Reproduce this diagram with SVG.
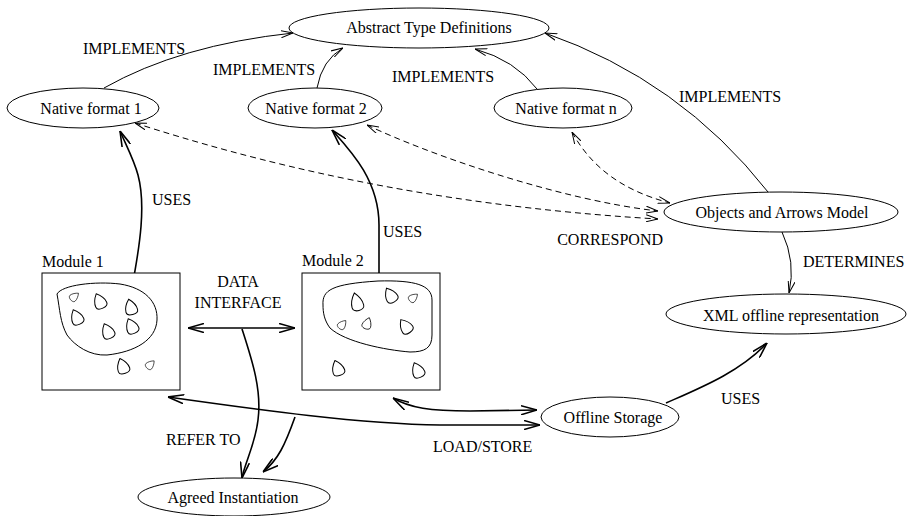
<svg xmlns="http://www.w3.org/2000/svg" width="909" height="516" viewBox="0 0 909 516">
<style>
.n{fill:#fff;stroke:#000;stroke-width:1}
.t{font-family:"Liberation Serif","Times New Roman",serif;font-size:16px;fill:#000}
.m{text-anchor:middle}
.c{fill:none;stroke:#000;stroke-width:1}
.k{fill:none;stroke:#000;stroke-width:1.6}
.d{fill:none;stroke:#000;stroke-width:1;stroke-dasharray:6 4}
.b{fill:none;stroke:#000;stroke-width:1}
</style>
<defs>
<marker id="a" viewBox="0 0 12 8" refX="12" refY="4" markerWidth="12" markerHeight="8" markerUnits="userSpaceOnUse" orient="auto-start-reverse"><path d="M0,0.5 L12,4 L0,7.5" fill="none" stroke="#000" stroke-width="1"/></marker>
<marker id="h" viewBox="0 0 16 10" refX="16" refY="5" markerWidth="16" markerHeight="10" markerUnits="userSpaceOnUse" orient="auto-start-reverse"><path d="M0,0.5 L16,5 L0,9.5" fill="none" stroke="#000" stroke-width="1.6"/></marker>
<path id="drop" d="M0,-9 C3,-6 6,-1 6,3 C6,8 -6,8 -6,3 C-6,-1 -3,-6 0,-9Z" fill="none" stroke="#000" stroke-width="1"/>
</defs>

<g id="connectors">
<path class="c" d="M104,88 Q180,45 293,33" marker-end="url(#a)"/>
<path class="c" d="M317,88 Q322,60 343,48" marker-end="url(#a)"/>
<path class="c" d="M537,89 Q515,60 475,49" marker-end="url(#a)"/>
<path class="c" d="M768,192 Q680,80 545,33" marker-end="url(#a)"/>
<path class="c" d="M782,232 Q796,262 789,293" marker-end="url(#a)"/>
<path class="k" d="M666,403 C700,388 740,372 767,343" marker-end="url(#h)"/>
<path class="k" d="M132,287 C140,245 146,205 138,175 C134,160 126,145 120,131" marker-end="url(#h)"/>
<path class="k" d="M379,280 L379,225 C379,180 350,150 332,130" marker-end="url(#h)"/>
<path class="k" d="M188,328 L295,328" marker-start="url(#h)" marker-end="url(#h)"/>
<path class="k" d="M242,329 C252,360 262,390 258,420 C255,445 245,462 242,478" marker-end="url(#h)"/>
<path class="k" d="M295,417 C285,445 278,460 263,472" marker-end="url(#h)"/>
<path class="k" d="M168,397 C260,410 360,424 440,425 L540,425" marker-start="url(#h)" marker-end="url(#h)"/>
<path class="k" d="M393,398 C410,408 430,411 470,411 L537,410" marker-start="url(#h)" marker-end="url(#h)"/>
<path class="d" d="M572,132 C590,165 620,190 670,203" marker-start="url(#a)" marker-end="url(#a)"/>
<path class="d" d="M367,125 C430,155 560,200 658,211" marker-start="url(#a)" marker-end="url(#a)"/>
<path class="d" d="M135,123 C250,160 420,205 658,219" marker-start="url(#a)" marker-end="url(#a)"/>
</g>

<g id="abstract"><ellipse class="n" cx="419" cy="28" rx="130" ry="20"/><text class="t m" x="429" y="33">Abstract Type Definitions</text></g>
<g id="native1"><ellipse class="n" cx="83" cy="108" rx="76" ry="20"/><text class="t m" x="91" y="114">Native format 1</text></g>
<g id="native2"><ellipse class="n" cx="315" cy="108" rx="67" ry="20"/><text class="t m" x="316" y="114">Native format 2</text></g>
<g id="nativen"><ellipse class="n" cx="563" cy="108" rx="69" ry="20"/><text class="t m" x="566" y="114">Native format n</text></g>
<g id="objects"><ellipse class="n" cx="781" cy="212" rx="117" ry="20"/><text class="t m" x="782" y="218">Objects and Arrows Model</text></g>
<g id="xml"><ellipse class="n" cx="786" cy="314" rx="120" ry="20"/><text class="t m" x="791" y="321">XML offline representation</text></g>
<g id="offline"><ellipse class="n" cx="610" cy="417" rx="69" ry="20"/><text class="t m" x="613" y="423">Offline Storage</text></g>
<g id="agreed"><ellipse class="n" cx="234" cy="497" rx="96" ry="19"/><text class="t m" x="233" y="503">Agreed Instantiation</text></g>

<g id="module1">
<rect class="n" x="42" y="273" width="138" height="117"/>
<text class="t" x="42" y="267">Module 1</text>
<path class="b" d="M57,294 C62,285 95,281 120,284 C145,288 158,302 157,320 C156,340 135,352 107,355 C90,356 75,346 67,335 C60,322 60,310 57,294 Z"/>
<use href="#drop" transform="translate(74,297) rotate(50) scale(0.65)"/>
<use href="#drop" transform="translate(100,302) rotate(-25)"/>
<use href="#drop" transform="translate(131,308) rotate(-15)"/>
<use href="#drop" transform="translate(77,318) rotate(-25)"/>
<use href="#drop" transform="translate(108,332) rotate(-25)"/>
<use href="#drop" transform="translate(132,327) rotate(-25)"/>
<use href="#drop" transform="translate(123,367) rotate(-20)"/>
<use href="#drop" transform="translate(150,365) rotate(45) scale(0.65)"/>
</g>

<g id="module2">
<rect class="n" x="302" y="273" width="138" height="117"/>
<text class="t" x="302" y="266">Module 2</text>
<path class="b" d="M323,305 C322,290 332,284 378,281 C415,280 432,285 432,300 L432,335 C432,348 425,352 410,352 C385,350 345,342 330,328 C324,320 323,312 323,305 Z"/>
<use href="#drop" transform="translate(357,303) rotate(-15) scale(1,1.15)"/>
<use href="#drop" transform="translate(391,296) rotate(-30)"/>
<use href="#drop" transform="translate(413,298) rotate(50) scale(0.65)"/>
<use href="#drop" transform="translate(342,325) rotate(40) scale(0.65)"/>
<use href="#drop" transform="translate(367,324) rotate(20) scale(0.75)"/>
<use href="#drop" transform="translate(406,327) rotate(-35)"/>
<use href="#drop" transform="translate(338,369) rotate(-20)"/>
<use href="#drop" transform="translate(418,371) rotate(-25)"/>
</g>

<g id="labels">
<text class="t" x="83" y="54">IMPLEMENTS</text>
<text class="t" x="213" y="75">IMPLEMENTS</text>
<text class="t" x="392" y="82">IMPLEMENTS</text>
<text class="t" x="679" y="102">IMPLEMENTS</text>
<text class="t" x="152" y="205">USES</text>
<text class="t" x="383" y="237">USES</text>
<text class="t" x="663" y="245" text-anchor="end">CORRESPOND</text>
<text class="t" x="803" y="267">DETERMINES</text>
<text class="t m" x="238" y="287">DATA</text>
<text class="t m" x="238" y="308">INTERFACE</text>
<text class="t" x="721" y="404">USES</text>
<text class="t" x="166" y="445">REFER TO</text>
<text class="t" x="433" y="452">LOAD/STORE</text>
</g>
</svg>
